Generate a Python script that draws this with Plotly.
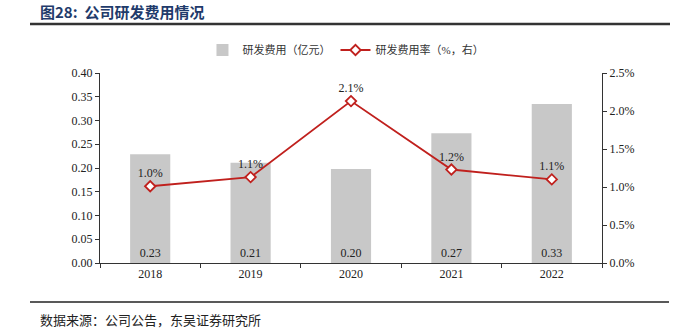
import plotly.graph_objects as go

years = ["2018", "2019", "2020", "2021", "2022"]
rd_expense = [0.229, 0.211, 0.198, 0.273, 0.335]      # 亿元
rd_ratio = [1.01, 1.13, 2.13, 1.23, 1.10]             # %
bar_labels = ["0.23", "0.21", "0.20", "0.27", "0.33"]
ratio_labels = ["1.0%", "1.1%", "2.1%", "1.2%", "1.1%"]
left_ticks = [0.0, 0.05, 0.10, 0.15, 0.20, 0.25, 0.30, 0.35, 0.40]
right_ticks = [0.0, 0.5, 1.0, 1.5, 2.0, 2.5]

SERIF = "Liberation Serif, Times New Roman, Noto Serif CJK SC, Noto Sans CJK SC, serif"
CJK = "Liberation Serif, Noto Sans CJK SC, serif"

L, R, T, B = 100, 79, 73, 73
W, H = 681, 336
pw, ph = W - L - R, H - T - B

def px(x):
    return (x - L) / pw

def py(y):
    return (H - B - y) / ph

fig = go.Figure()
fig.add_trace(go.Bar(
    x=years, y=rd_expense, name="研发费用（亿元）",
    marker=dict(color="#c8c8c8", line=dict(width=0)),
    width=0.4,
    text=bar_labels, textposition="inside", insidetextanchor="start",
    textfont=dict(family=SERIF, size=12, color="#222222"),
    yaxis="y",
))
fig.add_trace(go.Scatter(
    x=years, y=rd_ratio, name="研发费用率（%，右）",
    mode="lines+markers+text",
    line=dict(color="#c0201d", width=1.8),
    marker=dict(symbol="diamond", size=8, color="white",
                line=dict(color="#c0201d", width=1.8)),
    text=ratio_labels, textposition="top center",
    textfont=dict(family=SERIF, size=12, color="#222222"),
    yaxis="y2",
))

fig.update_layout(
    width=W, height=H,
    margin=dict(l=L, r=R, t=T, b=B),
    paper_bgcolor="white", plot_bgcolor="white",
    font=dict(family=SERIF, size=12, color="#222222"),
    showlegend=True,
    legend=dict(orientation="h", x=0.49, xanchor="center", y=py(50), yanchor="middle",
                font=dict(family=CJK, size=11, color="#333333"),
                bgcolor="rgba(0,0,0,0)", itemwidth=30, tracegroupgap=0),
    xaxis=dict(
        type="category", showline=True, linecolor="#333333", linewidth=1,
        ticks="outside", ticklen=4, tickcolor="#333333",
        tickson="boundaries", showgrid=False, zeroline=False,
        tickfont=dict(family=SERIF, size=12, color="#222222"),
    ),
    yaxis=dict(
        range=[0, 0.40], tickvals=left_ticks,
        ticktext=[f"{v:.2f}" for v in left_ticks],
        showline=True, linecolor="#333333", linewidth=1,
        ticks="outside", ticklen=4, tickcolor="#333333",
        showgrid=False, zeroline=False,
        tickfont=dict(family=SERIF, size=12, color="#222222"),
    ),
    yaxis2=dict(
        range=[0, 2.5], tickvals=right_ticks,
        ticktext=[f"{v:.1f}%" for v in right_ticks],
        overlaying="y", side="right",
        showline=True, linecolor="#333333", linewidth=1,
        ticks="outside", ticklen=4, tickcolor="#333333",
        showgrid=False, zeroline=False,
        tickfont=dict(family=SERIF, size=12, color="#222222"),
    ),
    shapes=[
        dict(type="line", xref="paper", yref="paper",
             x0=px(30), x1=px(670), y0=py(24), y1=py(24),
             line=dict(color="#333333", width=2.5)),
        dict(type="line", xref="paper", yref="paper",
             x0=px(30), x1=px(669), y0=py(302), y1=py(302),
             line=dict(color="#222222", width=1.5)),
    ],
    annotations=[
        dict(text="<b>图28:  公司研发费用情况</b>", xref="paper", yref="paper",
             x=px(38), y=py(11), xanchor="left", yanchor="middle", showarrow=False,
             font=dict(family="Noto Sans CJK SC, serif", size=15, color="#1f3b6b")),
        dict(text="数据来源：公司公告，东吴证券研究所", xref="paper", yref="paper",
             x=px(38), y=py(319), xanchor="left", yanchor="middle", showarrow=False,
             font=dict(family="Noto Sans CJK SC, serif", size=13, color="#222222")),
    ],
)

fig.write_html("out.html")
